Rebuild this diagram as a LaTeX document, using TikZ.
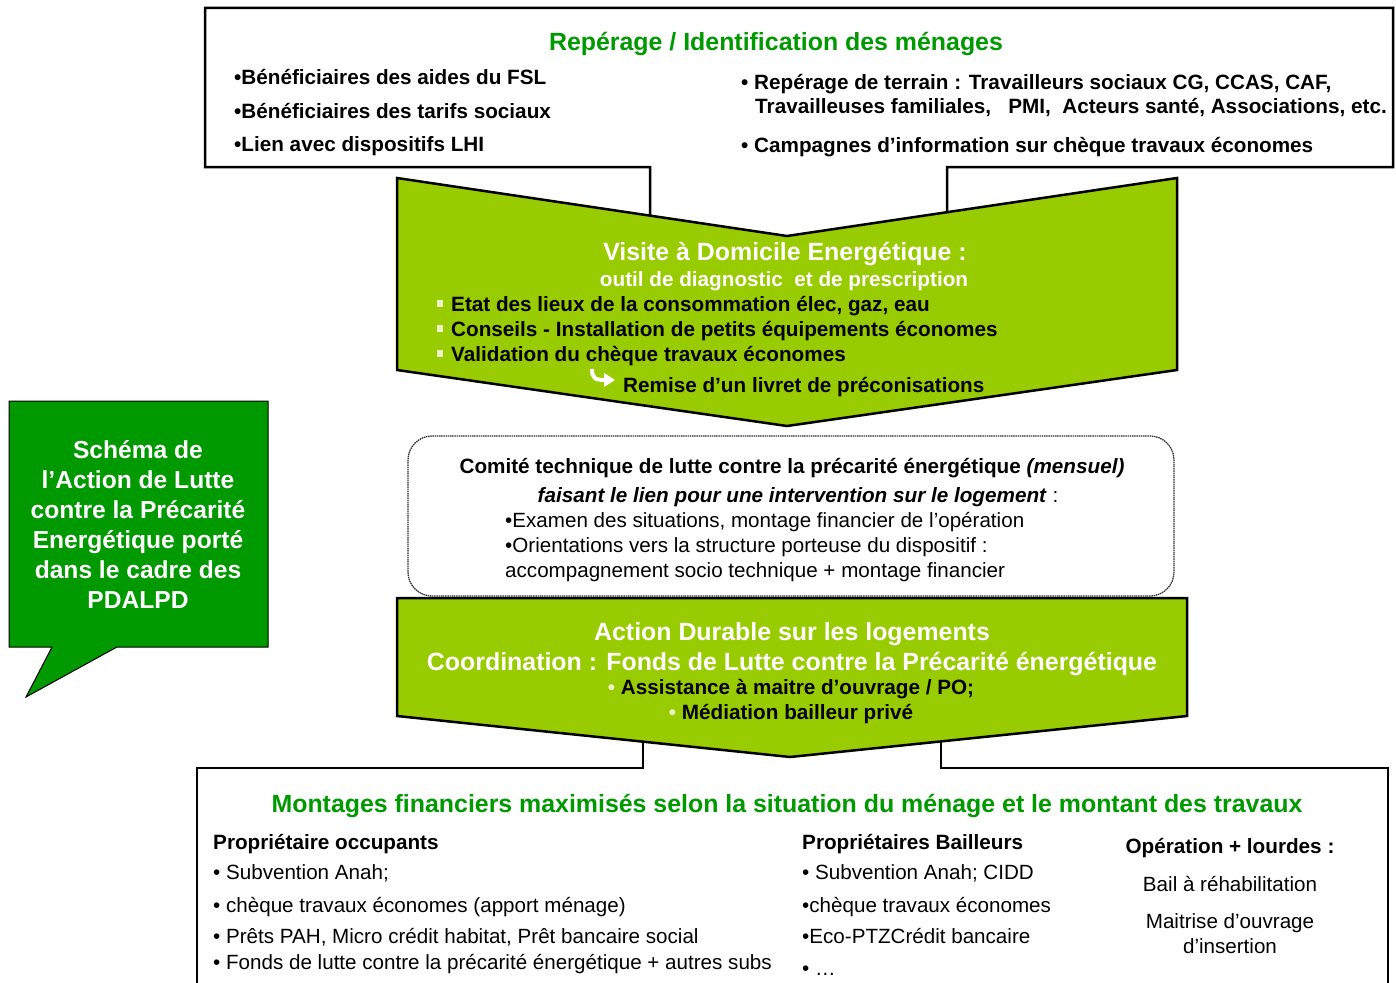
\documentclass[tikz,border=0pt]{standalone}
\usepackage{fontspec}
\setmainfont{Liberation Sans}
\definecolor{lime}{RGB}{153,204,0}
\definecolor{dkgreen}{RGB}{0,153,0}
\definecolor{palebul}{RGB}{235,245,200}
\tikzset{
  outline/.style={draw=black, line width=2.5pt, line join=miter},
  chev/.style={outline, fill=lime},
  commbox/.style={draw=black!80, line width=1.3pt, dash pattern=on 1.5pt off 0.7pt, rounded corners=24pt, fill=white},
  bt/.style={inner sep=0pt, anchor=base west, font=\fontsize{20.7}{25}\selectfont\bfseries},
  rt/.style={inner sep=0pt, anchor=base west, font=\fontsize{20.6}{25}\selectfont},
  ct/.style={inner sep=0pt, anchor=base, font=\fontsize{20.7}{25}\selectfont\bfseries},
  crt/.style={inner sep=0pt, anchor=base, font=\fontsize{20.6}{25}\selectfont},
  title/.style={inner sep=0pt, anchor=base, font=\fontsize{24.9}{30}\selectfont\bfseries},
  sqbul/.style={fill=palebul, draw=none, minimum width=6pt, minimum height=7pt, inner sep=0pt},
}
\begin{document}
\begin{tikzpicture}[x=1pt,y=-1pt]
\useasboundingbox (0,0) rectangle (1396,982);

% ---------- top box ----------
\draw[outline, fill=white] (205,8) -- (1393,8) -- (1393,167) -- (947,167) -- (947,213) -- (787,237) -- (650,216) -- (650,167) -- (205,167) -- cycle;
\node[title, text=dkgreen] (t1) at (776,51) {Repérage / Identification des ménages};
\node[bt] (a1) at (234,84) {•Bénéficiaires des aides du FSL};
\node[bt] (a2) at (234,118) {•Bénéficiaires des tarifs sociaux};
\node[bt] (a3) at (234,151) {•Lien avec dispositifs LHI};
\node[bt] (b1) at (741,89) {• Repérage de terrain : Travailleurs sociaux CG, CCAS, CAF,};
\node[bt] (b2) at (755,113) {Travailleuses familiales,\ \ \ PMI,\ \ Acteurs santé, Associations, etc.};
\node[bt] (b3) at (741,152) {• Campagnes d’information sur chèque travaux économes};

% ---------- chevron 1 ----------
\draw[chev] (397,178) -- (787,236) -- (1177,178) -- (1177,370) -- (787,426) -- (397,370) -- cycle;
\node[title, text=white] (v1) at (785,260) {Visite à Domicile Energétique :};
\node[ct, text=white] (v2) at (784,286) {outil de diagnostic\ \ et de prescription};
\node[sqbul] (s1) at (440,303) {};
\node[sqbul] (s2) at (440,328) {};
\node[sqbul] (s3) at (440,353) {};
\node[bt] (v3) at (451,311) {Etat des lieux de la consommation élec, gaz, eau};
\node[bt] (v4) at (451,336) {Conseils - Installation de petits équipements économes};
\node[bt] (v5) at (451,361) {Validation du chèque travaux économes};
\draw[white, line width=4pt] (592,369) .. controls (592,378) and (595,380) .. (605,380);
\fill[white] (604,373) -- (615,380) -- (604,387) -- cycle;
\node[bt] (v6) at (623,392) {Remise d’un livret de préconisations};

% ---------- comite box ----------
\draw[commbox] (408,436) rectangle (1174,596);
\node[ct] (c1) at (792,473) {Comité technique de lutte contre la précarité énergétique \textit{(mensuel)}};
\node[ct] (c2) at (798,502) {\textit{faisant le lien pour une intervention sur le logement}\mdseries\ :};
\node[rt] (c3) at (505,527) {•Examen des situations, montage financier de l’opération};
\node[rt] (c4) at (505,552) {•Orientations vers la structure porteuse du dispositif :};
\node[rt] (c5) at (505,577) {accompagnement socio technique + montage financier};

% ---------- bottom box ----------
\draw[outline, fill=white] (197,990) -- (197,768) -- (643,768) -- (643,730) -- (941,730) -- (941,768) -- (1388,768) -- (1388,990);

% ---------- chevron 2 ----------
\draw[chev] (397,598) -- (1187,598) -- (1187,716) -- (790,757) -- (397,716) -- cycle;
\node[title, text=white] (d1) at (792,640) {Action Durable sur les logements};
\node[title, text=white] (d2) at (792,670) {Coordination : Fonds de Lutte contre la Précarité énergétique};
\node[ct] (d3) at (791,694) {\textcolor{palebul}{•} Assistance à maitre d’ouvrage / PO;};
\node[ct] (d4) at (791,719) {\textcolor{palebul}{•} Médiation bailleur privé};

% bottom box text
\node[title, text=dkgreen] (m0) at (787,812) {Montages financiers maximisés selon la situation du ménage et le montant des travaux};
\node[bt] (p0) at (213,849) {Propriétaire occupants};
\node[rt] (p1) at (213,879) {• Subvention Anah;};
\node[rt] (p2) at (213,912) {• chèque travaux économes (apport ménage)};
\node[rt] (p3) at (213,943) {• Prêts PAH, Micro crédit habitat, Prêt bancaire social};
\node[rt] (p4) at (213,969) {• Fonds de lutte contre la précarité énergétique + autres subs};
\node[bt] (q0) at (802,849) {Propriétaires Bailleurs};
\node[rt] (q1) at (802,879) {• Subvention Anah; CIDD};
\node[rt] (q2) at (802,912) {•chèque travaux économes};
\node[rt] (q3) at (802,943) {•Eco-PTZCrédit bancaire};
\node[rt] (q4) at (802,975) {• …};
\node[ct] (o0) at (1230,853) {Opération + lourdes :};
\node[crt] (o1) at (1230,891) {Bail à réhabilitation};
\node[crt] (o2) at (1230,928) {Maitrise d’ouvrage};
\node[crt] (o3) at (1230,953) {d’insertion};

% ---------- callout ----------
\draw[draw=black, line width=1pt, fill=dkgreen] (9,401) -- (268,401) -- (268,647) -- (117,647) -- (26,697) -- (52,647) -- (9,647) -- cycle;
\node[inner sep=0pt, text=white, align=center, font=\fontsize{24.6}{30}\selectfont\bfseries] (cl) at (138,524)
  {Schéma de\\l’Action de Lutte\\contre la Précarité\\Energétique porté\\dans le cadre des\\PDALPD};
\end{tikzpicture}
\end{document}
